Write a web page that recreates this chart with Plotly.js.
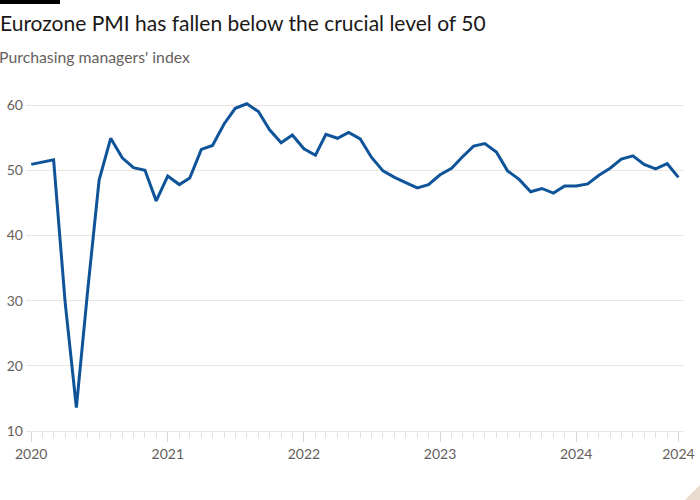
<!DOCTYPE html>
<html>
<head>
<meta charset="utf-8">
<script src="https://cdn.plot.ly/plotly-3.0.1.min.js"></script>
<style>html,body{margin:0;padding:0;background:#fff}#chart{width:700px;height:500px}</style>
</head>
<body>
<div id="chart"></div>
<script>
// Monthly data points (dated to the first day of the following month, as drawn)
const dates = [
  "2020-01-01","2020-02-01","2020-03-01","2020-04-01","2020-05-01","2020-06-01","2020-07-01","2020-08-01","2020-09-01","2020-10-01","2020-11-01","2020-12-01",
  "2021-01-01","2021-02-01","2021-03-01","2021-04-01","2021-05-01","2021-06-01","2021-07-01","2021-08-01","2021-09-01","2021-10-01","2021-11-01","2021-12-01",
  "2022-01-01","2022-02-01","2022-03-01","2022-04-01","2022-05-01","2022-06-01","2022-07-01","2022-08-01","2022-09-01","2022-10-01","2022-11-01","2022-12-01",
  "2023-01-01","2023-02-01","2023-03-01","2023-04-01","2023-05-01","2023-06-01","2023-07-01","2023-08-01","2023-09-01","2023-10-01","2023-11-01","2023-12-01",
  "2024-01-01","2024-02-01","2024-03-01","2024-04-01","2024-05-01","2024-06-01","2024-07-01","2024-08-01","2024-09-01","2024-10-01"
];
const pmi = [
  50.9, 51.3, 51.6, 29.7, 13.6, 31.9, 48.5, 54.9, 51.9, 50.4, 50.0, 45.3,
  49.1, 47.8, 48.8, 53.2, 53.8, 57.1, 59.5, 60.2, 59.0, 56.2, 54.2, 55.4,
  53.3, 52.3, 55.5, 54.9, 55.8, 54.8, 52.0, 49.9, 48.9, 48.1, 47.3, 47.8,
  49.3, 50.3, 52.0, 53.7, 54.1, 52.8, 49.9, 48.6, 46.7, 47.2, 46.5, 47.6,
  47.6, 47.9, 49.2, 50.3, 51.7, 52.2, 50.9, 50.2, 51.0, 48.9
];
const xTickVals = ["2020-01-01","2021-01-01","2022-01-01","2023-01-01","2024-01-01","2024-10-01"];
const xTickText = ["2020","2021","2022","2023","2024","2024"];
const yTickVals = [10, 20, 30, 40, 50, 60];

const titleText = "Eurozone PMI has fallen below the crucial level of 50";
const subtitleText = "Purchasing managers' index";

const W = 700, H = 500;
const M = {l: 26, r: 16, t: 92, b: 69};
const pw = W - M.l - M.r, ph = H - M.t - M.b;
const px = x => (x - M.l) / pw;
const py = y => (H - M.b - y) / ph;

const FONT = "Lato, 'Open Sans', sans-serif";
const grid = "#ebe5df";

const trace = {
  x: dates, y: pmi, type: "scatter", mode: "lines",
  line: {color: "#0f5499", width: 3}, hoverinfo: "skip"
};

const layout = {
  width: W, height: H,
  margin: M,
  paper_bgcolor: "#ffffff", plot_bgcolor: "#ffffff",
  showlegend: false,
  font: {family: FONT, color: "#66605c", size: 14},
  title: {
    text: titleText, x: 0, xref: "container", xanchor: "left",
    y: 1 - 24 / H, yref: "container", yanchor: "middle",
    pad: {l: 0, t: 0, r: 0, b: 0},
    font: {family: FONT, size: 21, color: "#1a1817"}
  },
  annotations: [{
    text: subtitleText, xref: "paper", yref: "paper",
    x: px(-3), y: py(57), xanchor: "left", yanchor: "middle",
    showarrow: false, font: {family: FONT, size: 15.8, color: "#66605c"}
  }],
  xaxis: {
    type: "date",
    range: ["2019-12-18", "2024-10-16"],
    tickmode: "array", tickvals: xTickVals, ticktext: xTickText,
    ticks: "outside", ticklen: 10, tickcolor: "#ddd5cd", tickwidth: 1,
    minor: {tickmode: "linear", tick0: "2020-01-01", dtick: "M1", ticks: "outside", ticklen: 6, tickcolor: "#e6dfd8", tickwidth: 1, showgrid: false},
    showgrid: false, zeroline: false,
    showline: true, linecolor: grid, linewidth: 1,
    tickfont: {family: FONT, size: 14, color: "#66605c"},
    fixedrange: true
  },
  yaxis: {
    range: [10, 62],
    tickmode: "array", tickvals: yTickVals,
    showgrid: true, gridcolor: grid, gridwidth: 1,
    zeroline: false, showline: false, ticks: "",
    ticklabelstandoff: 2,
    tickfont: {family: FONT, size: 14, color: "#66605c"},
    fixedrange: true
  },
  shapes: [
    {type: "rect", xref: "paper", yref: "paper", x0: px(0), x1: px(60), y0: py(4), y1: py(0),
     fillcolor: "#000000", line: {width: 0}, layer: "above"},
    {type: "path", xref: "paper", yref: "paper",
     path: `M ${px(685)} ${py(500)} L ${px(700)} ${py(500)} L ${px(700)} ${py(485)} Z`,
     fillcolor: "#e9dccf", line: {width: 0}, layer: "above"}
  ]
};

Plotly.newPlot("chart", [trace], layout, {displayModeBar: false, staticPlot: true});
</script>
</body>
</html>
